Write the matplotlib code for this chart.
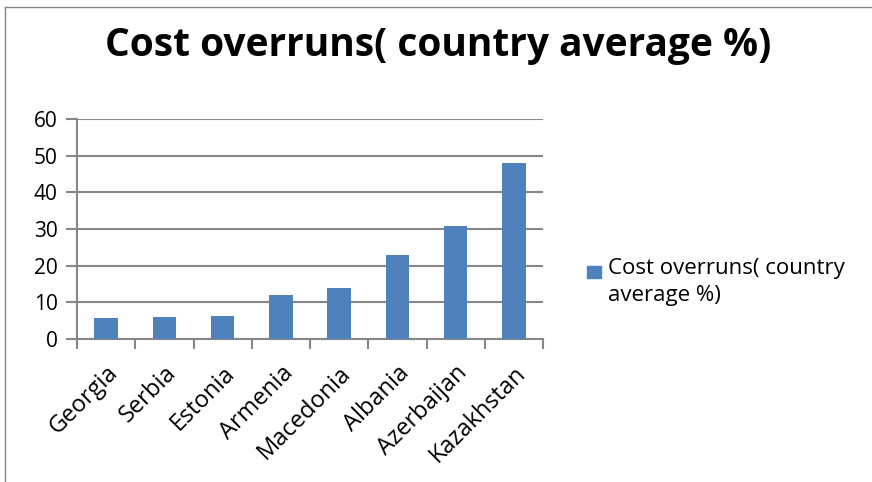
import matplotlib.pyplot as plt
from matplotlib.patches import Rectangle
from matplotlib.lines import Line2D

countries = ["Georgia", "Serbia", "Estonia", "Armenia", "Macedonia",
             "Albania", "Azerbaijan", "Kazakhstan"]
overruns = [5.7, 5.9, 6.3, 12.0, 13.9, 22.9, 30.8, 48.0]
y_ticks = [0, 10, 20, 30, 40, 50, 60]

title = "Cost overruns( country average %)"
legend_label = "Cost overruns( country\naverage %)"

bar_color = "#4F81BD"
grid_color = "#878787"

plt.rcParams['font.family'] = ['Open Sans', 'DejaVu Sans']

fig = plt.figure(figsize=(8.72, 4.82), dpi=100)
ax = fig.add_axes([77 / 872, 1 - 339 / 482, (543 - 77) / 872, 220 / 482])

x = list(range(len(countries)))
ax.bar(x, overruns, width=0.4, color=bar_color, zorder=3)

ax.set_xlim(-0.5, len(countries) - 0.5)
ax.set_ylim(0, 60)
ax.set_yticks(y_ticks)
ax.yaxis.grid(True, color=grid_color, linewidth=1.5, zorder=0)

# labels at bar centres, tick marks at category boundaries
ax.set_xticks(x)
ax.set_xticklabels(countries, rotation=45, ha='right', rotation_mode='anchor',
                   fontsize=17)
ax.tick_params(axis='x', which='major', length=0, pad=16)
ax.set_xticks([i - 0.5 for i in range(len(countries) + 1)], minor=True)
ax.tick_params(axis='x', which='minor', length=7, width=1.5, color=grid_color)
ax.tick_params(axis='y', length=8, width=1.5, color=grid_color, labelsize=15,
               pad=6)

for side in ['top', 'right']:
    ax.spines[side].set_visible(False)
for side in ['left', 'bottom']:
    ax.spines[side].set_color(grid_color)
    ax.spines[side].set_linewidth(1.5)

fig.text(0.503, 0.905, title, ha='center', va='center', fontsize=28,
         fontweight='bold')

# legend: square key beside the first line of a wrapped label
fig.patches.append(Rectangle((587 / 872, 1 - 278 / 482), 14 / 872, 12 / 482,
                             transform=fig.transFigure, color=bar_color))
fig.text(608 / 872, 1 - 258 / 482, legend_label, ha='left', va='top',
         fontsize=16, linespacing=1.35)

# outer chart frame (cropped on right and bottom)
fig.add_artist(Line2D([5 / 872, 5 / 872], [0, 1 - 7 / 482],
                      transform=fig.transFigure, color=grid_color, lw=1))
fig.add_artist(Line2D([5 / 872, 1], [1 - 7 / 482, 1 - 7 / 482],
                      transform=fig.transFigure, color=grid_color, lw=1))

fig.savefig("out.png", dpi=100)
